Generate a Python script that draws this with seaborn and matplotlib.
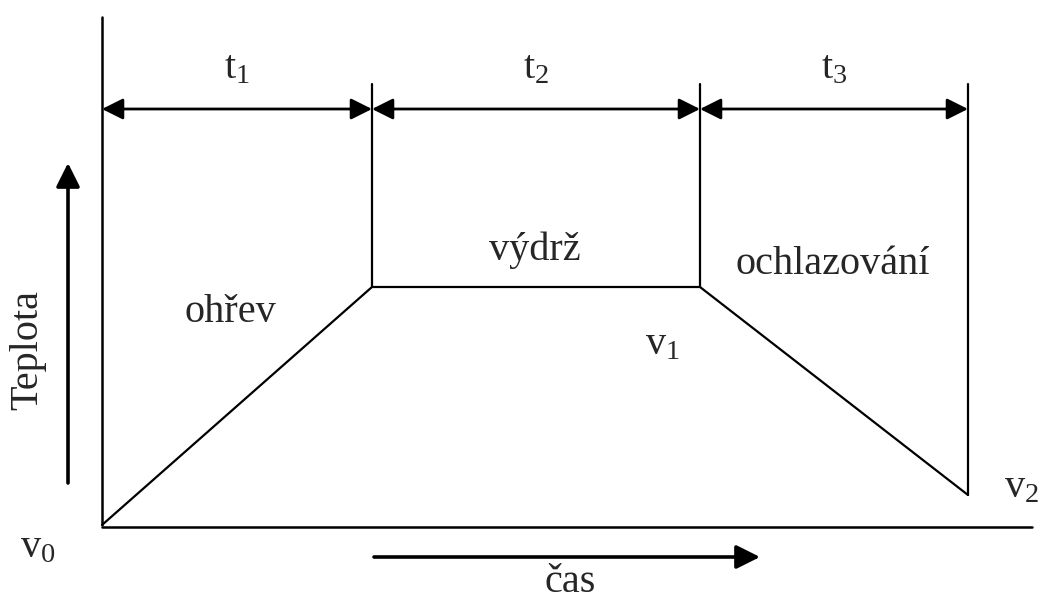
import numpy as np
import pandas as pd
import matplotlib
matplotlib.use("Agg")
import matplotlib.pyplot as plt
import seaborn as sns

# Heat treatment profile (diagram units: time -> x, temperature -> y)
phase_times = [0, 270, 598, 866]          # start, end of t1, end of t2, end of t3
phase_temps = [0, 238, 238, 30]           # v0 -> v1 -> v1 -> v2
phase_labels = ["t$_1$", "t$_2$", "t$_3$"]
phase_names = ["ohřev", "výdrž", "ochlazování"]
rate_labels = ["v$_0$", "v$_1$", "v$_2$"]
x_label = "čas"
y_label = "Teplota"

sns.set_style("white")
plt.rcParams["font.family"] = ["Liberation Serif", "DejaVu Serif"]
plt.rcParams["mathtext.fontset"] = "custom"
plt.rcParams["mathtext.rm"] = "Liberation Serif"
plt.rcParams["mathtext.it"] = "Liberation Serif"

fs = 29

fig = plt.figure(figsize=(10.45, 6.05), dpi=100)
ax = fig.add_axes([0, 0, 1, 1])
ax.set_xlim(-102, 943)
ax.set_ylim(-80, 525)
ax.axis("off")

df = pd.DataFrame({"time": phase_times, "temp": phase_temps})
sns.lineplot(data=df, x="time", y="temp", color="black", linewidth=1.6, ax=ax, sort=False)

# axes of the diagram
ax.plot([0, 0], [0, 508], color="black", lw=1.8)
ax.plot([0, 930], [-2, -2], color="black", lw=1.8)

# vertical boundaries of the phases
top = 441
for t, v in zip(phase_times[1:], phase_temps[1:]):
    ax.plot([t, t], [v, top], color="black", lw=1.6)

# dimension arrows
arrow_y = 416
for i in range(3):
    ax.annotate("", xy=(phase_times[i + 1], arrow_y), xytext=(phase_times[i], arrow_y),
                arrowprops=dict(arrowstyle="<|-|>", color="black", lw=2,
                                mutation_scale=32, shrinkA=0, shrinkB=0))
    mid = (phase_times[i] + phase_times[i + 1]) / 2
    ax.text(mid, 456, phase_labels[i], fontsize=fs, ha="center", va="center")

# phase names
ax.text(128, 213, phase_names[0], fontsize=fs, ha="center", va="center")
ax.text(433, 275, phase_names[1], fontsize=fs, ha="center", va="center")
ax.text(731, 260, phase_names[2], fontsize=fs, ha="center", va="center")

# rate labels
ax.text(-64, -23, rate_labels[0], fontsize=fs, ha="center", va="center")
ax.text(560, 180, rate_labels[1], fontsize=fs, ha="center", va="center")
ax.text(920, 37, rate_labels[2], fontsize=fs, ha="center", va="center")

# direction arrows
ax.annotate("", xy=(-34, 362), xytext=(-34, 42),
            arrowprops=dict(arrowstyle="-|>", color="black", lw=2.6,
                            mutation_scale=36, shrinkA=0, shrinkB=0))
ax.annotate("", xy=(658, -32), xytext=(272, -32),
            arrowprops=dict(arrowstyle="-|>", color="black", lw=2.6,
                            mutation_scale=36, shrinkA=0, shrinkB=0))
ax.text(-74, 175, y_label, fontsize=fs, rotation=90, ha="center", va="center")
ax.text(468, -58, x_label, fontsize=fs, ha="center", va="center")

fig.savefig("out.png", dpi=100)
